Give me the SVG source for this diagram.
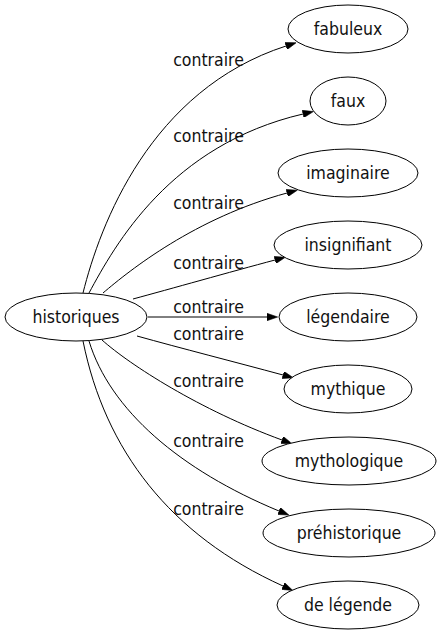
<svg xmlns="http://www.w3.org/2000/svg" width="440" height="635" viewBox="0 0 440 635">
<style>
text{font-family:"DejaVu Sans Condensed","DejaVu Sans",sans-serif;font-stretch:condensed;font-size:17.5px;fill:#111;text-anchor:middle}
ellipse{fill:#fff;stroke:#000;stroke-width:1}
.e path{fill:none;stroke:#000;stroke-width:1;marker-end:url(#ah)}
</style>
<defs>
<marker id="ah" viewBox="0 0 10 7" refX="0" refY="3.5" markerWidth="11" markerHeight="7.5" markerUnits="userSpaceOnUse" orient="auto">
<path d="M0,0 L10,3.5 L0,7 z" fill="#000" stroke="#000" stroke-width="0.5"/>
</marker>
</defs>
<rect width="440" height="635" fill="#fff"/>
<g id="edges" class="e">
<path d="M83,293 C100,225 150,90 286,46"/>
<path d="M89,293 C115,245 170,145 303,114"/>
<path d="M103,293 C130,270 195,218 287,193"/>
<path d="M133,299 C170,289 230,272 275,260"/>
<path d="M148,317 L267,317"/>
<path d="M137,336 C180,348 235,362 283,375"/>
<path d="M102,340 C130,365 200,410 282,440"/>
<path d="M89,341 C110,410 180,470 279,511"/>
<path d="M83,341 C105,450 170,535 283,586"/>
</g>
<g id="labels">
<text x="208.5" y="66">contraire</text>
<text x="208.5" y="142">contraire</text>
<text x="208.5" y="209">contraire</text>
<text x="208.5" y="269">contraire</text>
<text x="208.5" y="313">contraire</text>
<text x="208.5" y="340">contraire</text>
<text x="208.5" y="387">contraire</text>
<text x="208.5" y="447">contraire</text>
<text x="208.5" y="515">contraire</text>
</g>
<g id="historiques"><ellipse cx="76" cy="317" rx="71" ry="24"/><text x="76" y="323">historiques</text></g>
<g id="fabuleux"><ellipse cx="348" cy="29" rx="60" ry="24"/><text x="348" y="35">fabuleux</text></g>
<g id="faux"><ellipse cx="348" cy="101" rx="38" ry="24"/><text x="348" y="107">faux</text></g>
<g id="imaginaire"><ellipse cx="348" cy="173" rx="70" ry="24"/><text x="348" y="179">imaginaire</text></g>
<g id="insignifiant"><ellipse cx="348" cy="245" rx="74" ry="24"/><text x="348" y="251">insignifiant</text></g>
<g id="legendaire"><ellipse cx="348" cy="317" rx="69" ry="24"/><text x="348" y="323">légendaire</text></g>
<g id="mythique"><ellipse cx="348" cy="389" rx="64" ry="24"/><text x="348" y="395">mythique</text></g>
<g id="mythologique"><ellipse cx="349" cy="461" rx="87" ry="24"/><text x="349" y="467">mythologique</text></g>
<g id="prehistorique"><ellipse cx="349" cy="533" rx="86" ry="24"/><text x="349" y="539">préhistorique</text></g>
<g id="de_legende"><ellipse cx="348" cy="605" rx="71" ry="24"/><text x="348" y="611">de légende</text></g>
</svg>
